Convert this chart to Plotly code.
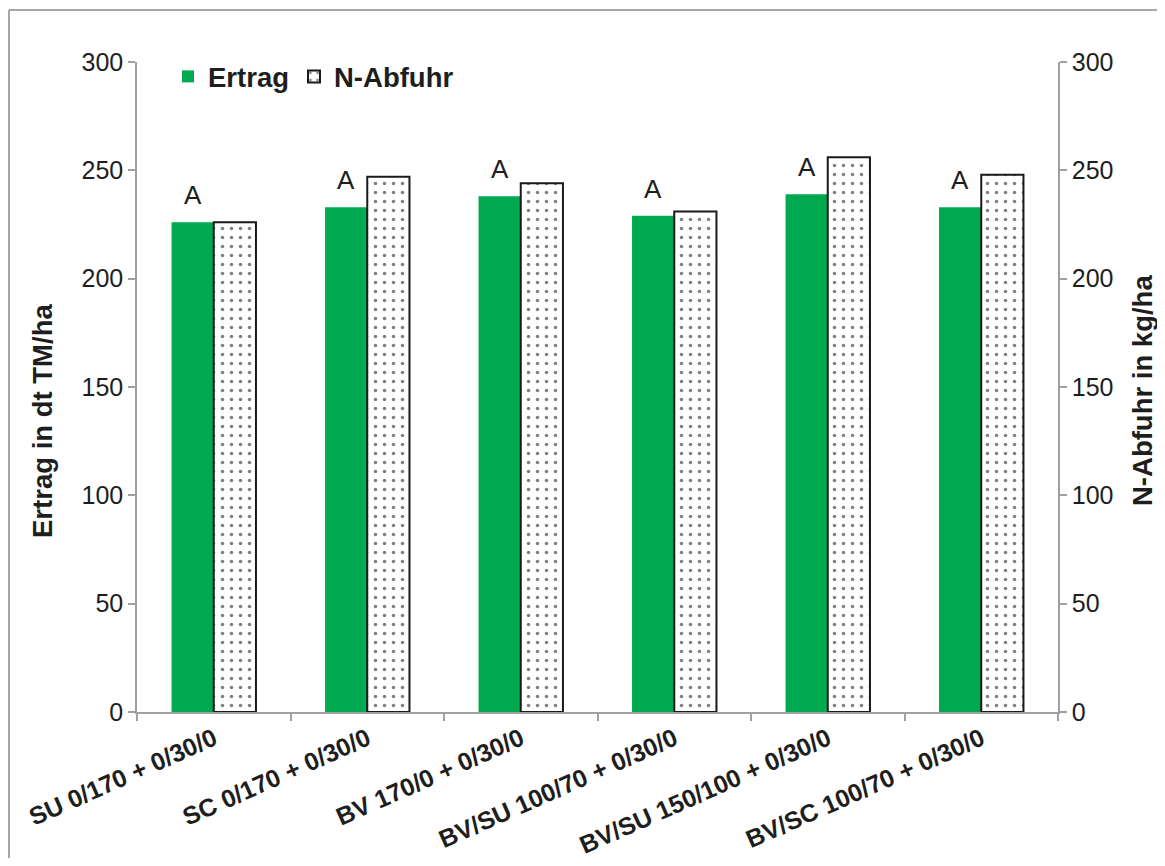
import plotly.graph_objects as go

categories = ["SU 0/170 + 0/30/0", "SC 0/170 + 0/30/0", "BV 170/0 + 0/30/0",
              "BV/SU 100/70 + 0/30/0", "BV/SU 150/100 + 0/30/0", "BV/SC 100/70 + 0/30/0"]
ertrag = [226, 233, 238, 229, 239, 233]
n_abfuhr = [226, 247, 244, 231, 256, 248]
letters = ["A", "A", "A", "A", "A", "A"]
y_ticks = [0, 50, 100, 150, 200, 250, 300]

# page has an 8px body margin; figure sized to fit inside window
W, H = 1149, 850
L, T = 129, 54
pw, ph = 921, 650
R, B = W - L - pw, H - T - ph

font = "Liberation Sans, Arial, sans-serif"
txt = "#1e1e1e"
axc = "#a0a0a0"

fig = go.Figure()
fig.add_trace(go.Bar(
    x=categories, y=ertrag, name="Ertrag", yaxis="y",
    marker=dict(color="#00A84F", line=dict(width=0)),
    width=0.275, offset=-0.275,
))
fig.add_trace(go.Bar(
    x=categories, y=n_abfuhr, name="N-Abfuhr", yaxis="y2",
    marker=dict(color="white", line=dict(color="#1a1a1a", width=2),
                pattern=dict(shape=".", fgcolor="#000000", bgcolor="white",
                             size=9, solidity=0.12)),
    width=0.275, offset=0.0,
))

for c, v, t in zip(categories, ertrag, letters):
    fig.add_annotation(x=c, y=v, xref="x", yref="y", text=t, showarrow=False,
                       xshift=-21, yshift=10, yanchor="bottom",
                       font=dict(family=font, size=26, color=txt))


def fx(p):
    return (p - L) / pw


def fy(p):
    return (T + ph - p) / ph


# axis titles (absolute page px minus 8px body margin)
fig.add_annotation(x=fx(42 - 8), y=fy(421 - 8), xref="paper", yref="paper",
                   text="Ertrag in dt TM/ha", textangle=-90, showarrow=False,
                   xanchor="center", yanchor="middle",
                   font=dict(family=font, size=27.5, color=txt, weight="bold"))
fig.add_annotation(x=fx(1142 - 8), y=fy(391 - 8), xref="paper", yref="paper",
                   text="N-Abfuhr in kg/ha", textangle=-90, showarrow=False,
                   xanchor="center", yanchor="middle",
                   font=dict(family=font, size=27.5, color=txt, weight="bold"))

# outer chart border (top and left visible)
fig.add_shape(type="line", xref="paper", yref="paper",
              x0=fx(1), x1=fx(1), y0=fy(H + 20), y1=fy(2),
              line=dict(color="#a6a6a6", width=2))
fig.add_shape(type="line", xref="paper", yref="paper",
              x0=fx(1), x1=fx(W + 20), y0=fy(2), y1=fy(2),
              line=dict(color="#a6a6a6", width=2))

yax = dict(range=[0, 300], tickvals=y_ticks, showgrid=False, zeroline=False,
           showline=True, linecolor=axc, linewidth=1.5,
           ticks="outside", ticklen=7, tickcolor=axc, tickwidth=1.5,
           tickfont=dict(family=font, size=25, color=txt),
           fixedrange=True)

fig.update_layout(
    width=W, height=H,
    margin=dict(l=L, r=R, t=T, b=B, autoexpand=False),
    paper_bgcolor="white", plot_bgcolor="white",
    barmode="overlay",
    showlegend=True,
    legend=dict(orientation="h", x=fx(160), y=fy(44), xanchor="left", yanchor="top",
                font=dict(family=font, size=27.5, color=txt, weight="bold"),
                itemwidth=30, bgcolor="rgba(0,0,0,0)", traceorder="normal"),
    xaxis=dict(type="category", showgrid=False, showline=True, linecolor=axc,
               linewidth=1.5, ticks="outside", ticklen=7, tickcolor=axc,
               tickwidth=1.5, tickson="boundaries", tickangle=-24,
               ticklabelstandoff=1,
               tickfont=dict(family=font, size=25, color=txt, weight="bold")),
    yaxis=dict(**yax),
    yaxis2=dict(**yax, overlaying="y", side="right"),
)

fig.write_html("out.html")
